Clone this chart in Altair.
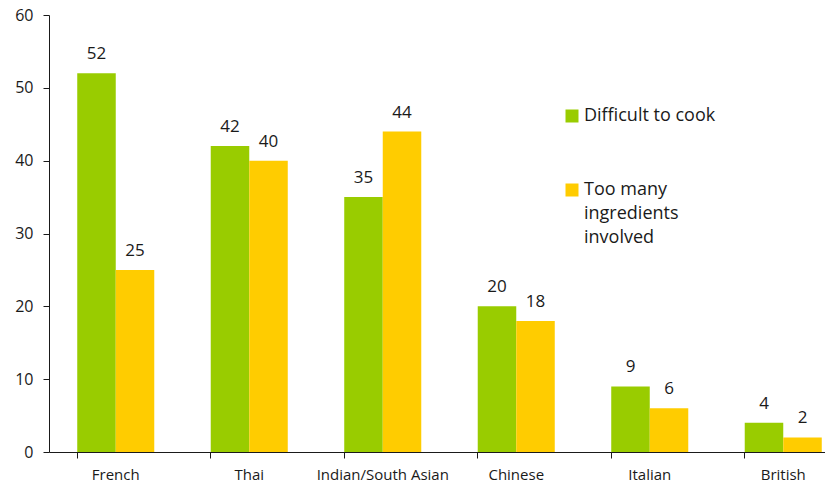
import altair as alt
import pandas as pd

categories = ["French", "Thai", "Indian/South Asian", "Chinese", "Italian", "British"]
series = ["Difficult to cook", "Too many ingredients involved"]
difficult = [52, 42, 35, 20, 9, 4]
too_many = [25, 40, 44, 18, 6, 2]
colors = ["#99CC00", "#FFCC00"]

rows = []
for c, a, b in zip(categories, difficult, too_many):
    rows.append({"cuisine": c, "series": series[0], "value": a})
    rows.append({"cuisine": c, "series": series[1], "value": b})
df = pd.DataFrame(rows)

FONT = "Open Sans"
INK = "#1a1a1a"

x = alt.X("cuisine:N", sort=categories, title=None,
          scale=alt.Scale(paddingInner=0.423, paddingOuter=0.2115, range=[0, 801]),
          axis=alt.Axis(labelAngle=0, labelFontSize=15, labelFont=FONT, labelColor=INK,
                        labelPadding=9, tickSize=6, bandPosition=0, domainColor=INK,
                        tickColor=INK, labelLimit=300))
xo = alt.XOffset("series:N", sort=series, scale=alt.Scale(paddingInner=0, paddingOuter=0))
y = alt.Y("value:Q", title=None,
          scale=alt.Scale(domain=[0, 60], nice=False),
          axis=alt.Axis(values=[0, 10, 20, 30, 40, 50, 60], grid=False, labelFontSize=16,
                        labelFont=FONT, labelColor=INK, tickSize=6, labelPadding=10,
                        domainColor=INK, tickColor=INK))

color = alt.Color("series:N", sort=series, title=None,
                  scale=alt.Scale(domain=series, range=colors),
                  legend=alt.Legend(orient="none", legendX=514, legendY=92, symbolType="square",
                                    symbolSize=169, symbolStrokeWidth=0, labelFontSize=18,
                                    labelFont=FONT, labelColor=INK, rowPadding=56,
                                    labelOffset=3, labelLimit=300,
                                    labelExpr="datum.label == 'Too many ingredients involved' ? ['Too many', 'ingredients', 'involved'] : datum.label"))

base = alt.Chart(df).encode(x=x, xOffset=xo)
bars = base.mark_bar().encode(y=y, color=color)
labels = base.mark_text(baseline="bottom", dy=-10, fontSize=17, font=FONT, color=INK).encode(
    y="value:Q", text="value:Q")

chart = (bars + labels).properties(
    width=776, height=437,
    autosize=alt.AutoSizeParams(type="none"),
    padding={"left": 41, "top": 7, "right": 0, "bottom": 30},
).configure(
    style={"guide-label": {"lineHeight": 24}}
).configure_view(stroke=None)

chart.save("out.html", embed_options={"renderer": "svg", "actions": False})
